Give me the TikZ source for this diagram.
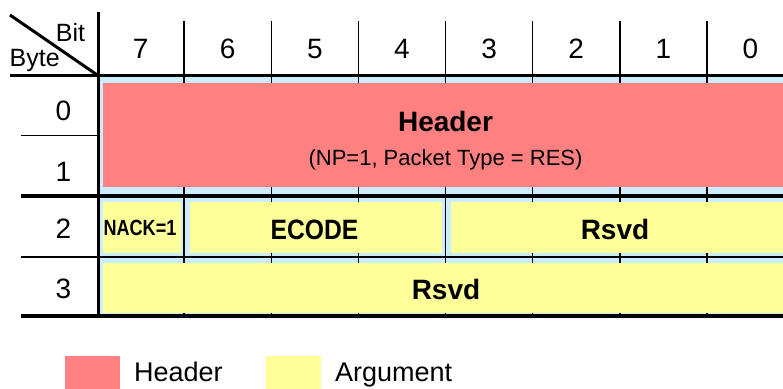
\documentclass[tikz,border=0pt]{standalone}
\usepackage{fontspec}
\setmainfont{Liberation Sans}
\definecolor{gapblue}{RGB}{204,236,255}
\definecolor{hdrpink}{RGB}{255,128,128}
\definecolor{argyellow}{RGB}{255,255,153}
\begin{document}
\begin{tikzpicture}[x=1pt,y=-1pt,
  thinline/.style={line width=1.5pt,black},
  midline/.style={line width=2pt,black},
  thickline/.style={line width=3.2pt,black},
  digit/.style={anchor=base,inner sep=0pt,font=\fontsize{28}{30}\selectfont},
  boldlbl/.style={anchor=base,inner sep=0pt,font=\fontsize{28}{30}\selectfont\bfseries},
  legtext/.style={anchor=base west,inner sep=0pt,font=\fontsize{27}{30}\selectfont}]
\useasboundingbox (0,0) rectangle (783,388);
% light blue background
\fill[gapblue] (99,76) rectangle (783,315);
% column lines
\foreach \k in {1,...,7}{
  \draw[thinline] ({97+87.125*\k},21) -- ({97+87.125*\k},316);
}
% row lines
\draw[thinline] (21,135.7) -- (99,135.7);
\draw[thickline] (21,196) -- (783,196);
\draw[midline] (21,256.5) -- (783,256.5);
\draw[thickline] (21,316) -- (783,316);
\draw[thickline] (10,75.5) -- (783,75.5);
% field boxes
\fill[hdrpink] (103,83) rectangle (783,187);
\fill[argyellow] (102.5,202) rectangle (181,252.5);
\fill[argyellow] (190,202) rectangle (442,252.5);
\fill[argyellow] (451,202) rectangle (783,252.5);
\fill[argyellow] (103,263) rectangle (783,313);
% left vertical and diagonal
\draw[thickline] (98.5,12) -- (98.5,318);
\coordinate (dA) at (10,15);
\coordinate (dB) at (98,75.5);
\draw[line width=3pt] (dA) -- (dB);
% corner labels
\node[anchor=base,inner sep=0pt,font=\fontsize{25}{28}\selectfont] (bit) at (70.5,41.7) {Bit};
\node[anchor=base west,inner sep=0pt,font=\fontsize{25}{28}\selectfont] (byte) at (9.5,66.7) {Byte};
% column digits
\foreach \k/\d in {0/7,1/6,2/5,3/4,4/3,5/2,6/1,7/0}{
  \node[digit] (c\d) at ({97+87.125*(\k+0.5)},58.3) {\d};
}
% row digits
\node[digit] (r0) at (63.5,120) {0};
\node[digit] (r1) at (63.5,181.7) {1};
\node[digit] (r2) at (63.5,238.3) {2};
\node[digit] (r3) at (63.5,298.3) {3};
% field labels
\node[boldlbl] (hdr) at (445.5,131.7) {Header};
\node[anchor=base,inner sep=0pt,font=\fontsize{22}{24}\selectfont] (hdrsub) at (445.5,165) {(NP=1, Packet Type = RES)};
\node[anchor=base,inner sep=0pt,font=\fontsize{22}{24}\selectfont\bfseries] (nack) at (140,235.7) {\scalebox{0.82}[1]{NACK=1}};
\node[boldlbl] (ecode) at (314.5,239.3) {\scalebox{0.88}[1]{ECODE}};
\node[boldlbl] (rsvdA) at (615,239.3) {Rsvd};
\node[boldlbl] (rsvdB) at (446,299.3) {Rsvd};
% legend
\fill[hdrpink] (65,356) rectangle (120,390);
\node[legtext] (lh) at (134,381.5) {Header};
\fill[argyellow] (266,356) rectangle (321,390);
\node[legtext] (la) at (335,381.5) {Argument};
\end{tikzpicture}
\end{document}
